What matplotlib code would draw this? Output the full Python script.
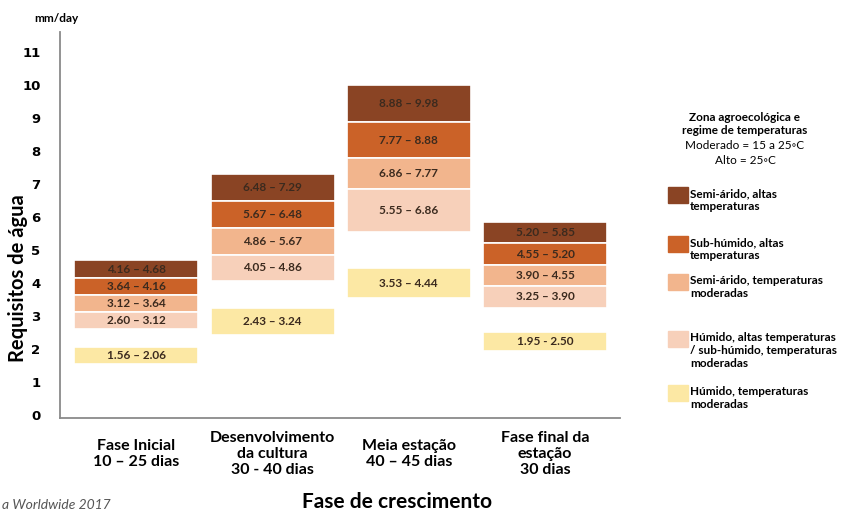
import matplotlib.pyplot as plt
from matplotlib.patches import Rectangle

plt.rcParams['font.family'] = ['Lato', 'DejaVu Sans']

# growth stages (x axis)
stages = ['Fase Inicial\n10 – 25 dias',
          'Desenvolvimento\nda cultura\n30 - 40 dias',
          'Meia estação\n40 – 45 dias',
          'Fase final da\nestação\n30 dias']

# zones, top to bottom in the legend
zones = ['Semi-árido, altas\ntemperaturas',
         'Sub-húmido, altas\ntemperaturas',
         'Semi-árido, temperaturas\nmoderadas',
         'Húmido, altas temperaturas\n/ sub-húmido, temperaturas\nmoderadas',
         'Húmido, temperaturas\nmoderadas']
colors = ['#8a4424', '#cb6228', '#f2b58d', '#f7d0ba', '#fce8a4']

# water requirement ranges (mm/day) per zone, one value per stage
low = [[4.16, 6.48, 8.88, 5.20],
       [3.64, 5.67, 7.77, 4.55],
       [3.12, 4.86, 6.86, 3.90],
       [2.60, 4.05, 5.55, 3.25],
       [1.56, 2.43, 3.53, 1.95]]
high = [[4.68, 7.29, 9.98, 5.85],
        [4.16, 6.48, 8.88, 5.20],
        [3.64, 5.67, 7.77, 4.55],
        [3.12, 4.86, 6.86, 3.90],
        [2.06, 3.24, 4.44, 2.50]]
labels = [['4.16 – 4.68', '6.48 – 7.29', '8.88 – 9.98', '5.20 – 5.85'],
          ['3.64 – 4.16', '5.67 – 6.48', '7.77 – 8.88', '4.55 – 5.20'],
          ['3.12 – 3.64', '4.86 – 5.67', '6.86 – 7.77', '3.90 – 4.55'],
          ['2.60 – 3.12', '4.05 – 4.86', '5.55 – 6.86', '3.25 – 3.90'],
          ['1.56 – 2.06', '2.43 – 3.24', '3.53 – 4.44', '1.95 - 2.50']]

fig = plt.figure(figsize=(8.45, 5.14), dpi=100)
ax = fig.add_axes([60/845, 1-418/514, 560/845, 386/514])

x = list(range(len(stages)))
for z in range(len(zones)):
    heights = [h - l for h, l in zip(high[z], low[z])]
    ax.bar(x, heights, bottom=low[z], width=0.91, color=colors[z],
           edgecolor='white', linewidth=1.2)
    for i in x:
        ax.text(i, (low[z][i] + high[z][i]) / 2, labels[z][i], ha='center',
                va='center', fontsize=8.5, color='#3b2a1e', fontweight='bold')

ax.set_xlim(-0.56, 3.55)
ax.set_ylim(-0.09, 11.6)
ax.set_yticks(range(12))
ax.set_yticklabels([str(v) for v in range(12)], fontsize=9.5, fontweight='bold',
                   family='DejaVu Sans')
ax.set_xticks(x)
ax.set_xticklabels(stages, fontsize=11.5, fontweight='bold', va='center',
                   linespacing=1.2)
ax.tick_params(axis='both', length=0)
ax.tick_params(axis='x', pad=26)
ax.tick_params(axis='y', pad=14)
for s in ['top', 'right']:
    ax.spines[s].set_visible(False)
for s in ['left', 'bottom']:
    ax.spines[s].set_color('#8a8a8a')
    ax.spines[s].set_linewidth(1.3)

fig.text(34/845, 1-18/514, 'mm/day', fontsize=8.5, fontweight='bold', va='center')
fig.text(18/845, 1-278/514, 'Requisitos de água', fontsize=14.5, fontweight='bold',
         rotation=90, ha='center', va='center')
fig.text(397/845, 1-502/514, 'Fase de crescimento', fontsize=15, fontweight='bold',
         ha='center', va='center')
fig.text(0.002, 1-505/514, 'a Worldwide 2017', fontsize=10, style='italic',
         color='#555555', va='center')

# legend
fig.text(745/845, 1-124/514, 'Zona agroecológica e\nregime de temperaturas',
         fontsize=8.5, fontweight='bold', ha='center', va='center', linespacing=1.2)
fig.text(745/845, 1-153/514, 'Moderado = 15 a 25◦C\nAlto = 25◦C',
         fontsize=8.5, ha='center', va='center', linespacing=1.5)
patch_y = [187, 236, 274, 331, 385]
for z in range(len(zones)):
    fig.add_artist(Rectangle((668/845, 1-(patch_y[z]+16)/514), 20/845, 16/514,
                             transform=fig.transFigure, color=colors[z]))
    fig.text(690/845, 1-(patch_y[z]+1)/514, zones[z], fontsize=8.5, fontweight='bold',
             va='top', linespacing=1.2)

fig.savefig('out.png', dpi=100)
